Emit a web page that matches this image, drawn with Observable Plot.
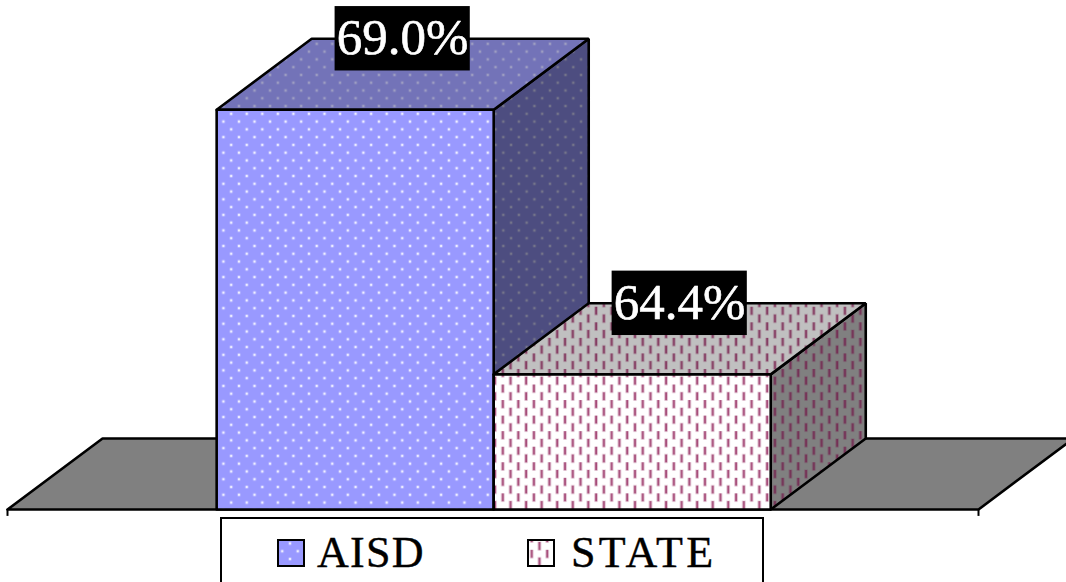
<!DOCTYPE html>
<html>
<head>
<meta charset="utf-8">
<script src="https://cdn.jsdelivr.net/npm/d3@7"></script>
<script src="https://cdn.jsdelivr.net/npm/@observablehq/plot@0.6"></script>
<style>
  html, body { margin: 0; padding: 0; background: #fff; overflow: hidden; width: 1066px; height: 582px; }
  svg { display: block; }
  #legend { position: absolute; left: 220px; top: 517px; width: 544px; height: 80px; border: 2px solid #000; box-sizing: border-box; font-family: "Liberation Serif", serif; font-size: 44px; color: #000; -webkit-text-stroke: 0.4px #000; }
  #legend .key { position: absolute; top: 19px; line-height: 30px; white-space: nowrap; }
  #legend svg { position: absolute; top: 20px; }
</style>
</head>
<body>
<div id="chart"></div>
<div id="legend"></div>
<script>
// Pass rates by group, on a truncated axis
const categories = ["AISD", "STATE"];
const values = [69.0, 64.4];
const labels = ["69.0%", "64.4%"];
const baseline = 62.05;

// Box projection, in scale units: one bar is one x unit wide
const depthX = 0.343;
const depthY = 1.235;
const floorLeft = -0.755;
const floorRight = 2.75;
const labelHalfW = 0.244;
const labelHalfH = 0.56;

const dotFaces = {front: ["#9999ff", "#ffffff"], top: ["#7373b8", "#a6a6c4"], side: ["#4d4d80", "#7c7c8c"]};
const dashFaces = {front: ["#ffffff", "#993366"], top: ["#c0c0c0", "#7d2a55"], side: ["#808080", "#742650"]};
const faceFills = [
  {front: "url(#dots-front)", top: "url(#dots-top)", side: "url(#dots-side)"},
  {front: "url(#dash-front)", top: "url(#dash-top)", side: "url(#dash-side)"}
];
const keySpacing = [1.3, 3.4];

// Tiled fills for the box faces
function patternDefs() {
  const defs = d3.create("svg:defs");
  const tile = (id, bg, offset) => {
    const p = defs.append("pattern").attr("id", id).attr("patternUnits", "userSpaceOnUse")
      .attr("width", 15.55).attr("height", 15.55)
      .attr("patternTransform", `translate(${offset[0]},${offset[1]})`);
    p.append("rect").attr("width", 15.55).attr("height", 15.55).attr("fill", bg);
    return p;
  };
  for (const [face, [bg, ink]] of Object.entries(dotFaces)) {
    const p = tile(`dots-${face}`, bg, [230.7, 113.3]);
    for (const [cx, cy] of [[0, 0], [7.77, 7.77], [15.55, 0], [0, 15.55], [15.55, 15.55]]) {
      p.append("circle").attr("cx", cx).attr("cy", cy).attr("r", 1.9).attr("fill", ink).attr("fill-opacity", 0.3);
      p.append("circle").attr("cx", cx).attr("cy", cy).attr("r", 1).attr("fill", ink);
    }
  }
  for (const [face, [bg, ink]] of Object.entries(dashFaces)) {
    const p = tile(`dash-${face}`, bg, [499.3, 384]);
    for (const [cx, cy] of [[3, 4], [10.77, 11.77], [10.77, -3.78]]) {
      p.append("rect").attr("x", cx - 1.9).attr("y", cy - 4.4).attr("width", 3.8).attr("height", 8.8).attr("fill", ink).attr("fill-opacity", 0.3);
      p.append("rect").attr("x", cx - 0.8).attr("y", cy - 4).attr("width", 1.6).attr("height", 8).attr("fill", ink).attr("fill-opacity", 0.9);
    }
  }
  return defs.node();
}

// One closed polygon per face, stroked in black
const face = (points, fill) => Plot.line(points, {x: "x", y: "y", fill, stroke: "#000", strokeWidth: 2.6, strokeLinejoin: "miter"});
const closed = (pts) => [...pts, pts[0]].map(([x, y]) => ({x, y}));

const boxMarks = categories.flatMap((c, i) => {
  const x0 = i, x1 = i + 1, v = values[i];
  return [
    face(closed([[x1, baseline], [x1 + depthX, baseline + depthY], [x1 + depthX, v + depthY], [x1, v]]), faceFills[i].side),
    face(closed([[x0, v], [x1, v], [x1 + depthX, v + depthY], [x0 + depthX, v + depthY]]), faceFills[i].top),
    face(closed([[x0, baseline], [x1, baseline], [x1, v], [x0, v]]), faceFills[i].front)
  ];
});

const labelRows = categories.map((c, i) => ({
  x: i + 0.5 + depthX / 2,
  y: values[i] + depthY,
  text: labels[i]
}));

const chart = Plot.plot({
  width: 1066,
  height: 518,
  margin: 0,
  x: {type: "linear", domain: [floorLeft, floorRight], range: [7, 978], axis: null},
  y: {type: "linear", domain: [baseline, values[0]], range: [509, 109.3], axis: null},
  marks: [
    patternDefs,
    // Floor of the chart
    face(closed([[floorLeft, baseline], [floorRight, baseline], [floorRight + depthX, baseline + depthY], [floorLeft + depthX, baseline + depthY]]), "#808080"),
    ...boxMarks,
    // Axis end ticks
    Plot.ruleX([floorLeft, floorRight], {y1: baseline, y2: baseline - 0.12, stroke: "#000", strokeWidth: 2}),
    // Value labels on black plates
    Plot.rect(labelRows, {
      x1: (d) => d.x - labelHalfW, x2: (d) => d.x + labelHalfW,
      y1: (d) => d.y - labelHalfH, y2: (d) => d.y + labelHalfH,
      fill: "#000", inset: 0
    }),
    Plot.text(labelRows, {x: "x", y: "y", dy: -1, text: "text", fill: "#fff", stroke: "#fff", strokeWidth: 0.6, fontFamily: "Liberation Serif", fontSize: 51, textAnchor: "middle", lineAnchor: "middle"})
  ]
});
document.getElementById("chart").append(chart);

// Legend under the chart
const legend = d3.select("#legend");
const keyPos = [[55, 95], [305, 349]];
categories.forEach((c, i) => {
  const sw = legend.append("svg").attr("width", 28).attr("height", 28).style("left", `${keyPos[i][0]}px`);
  sw.append("rect").attr("x", 1).attr("y", 1).attr("width", 26).attr("height", 26)
    .attr("fill", faceFills[i].front).attr("stroke", "#000").attr("stroke-width", 2);
  legend.append("div").attr("class", "key").style("left", `${keyPos[i][1]}px`).style("letter-spacing", `${keySpacing[i]}px`).text(c);
});
</script>
</body>
</html>
